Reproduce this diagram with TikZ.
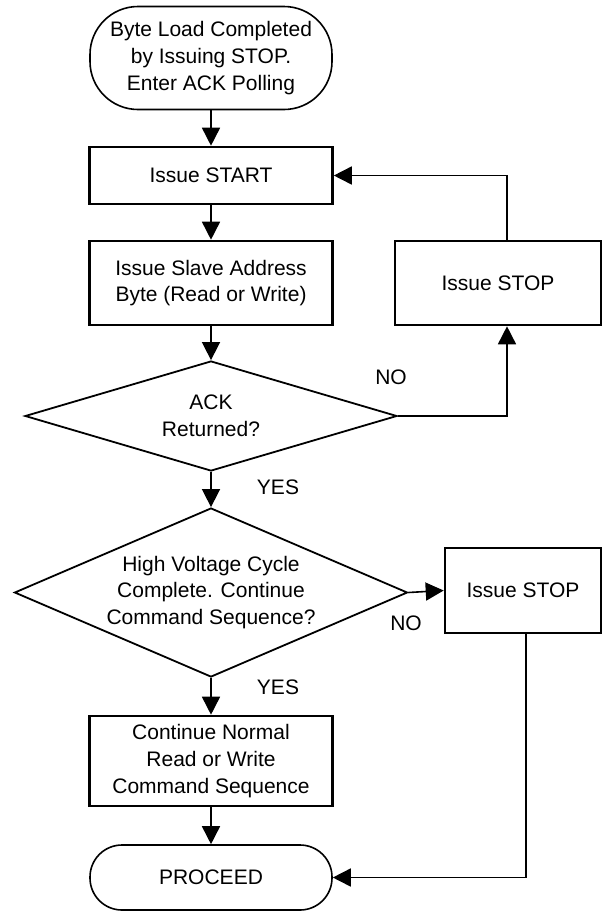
\documentclass[tikz,border=0pt]{standalone}
\usepackage{fontspec}
\setmainfont{Liberation Sans}
\usetikzlibrary{arrows.meta,shapes.geometric}

\begin{document}
\begin{tikzpicture}[x=0.5pt,y=-0.5pt,
  every node/.style={font=\fontsize{10.5}{13.3}\selectfont,align=center},
  box/.style={draw,line width=1.3pt,minimum width=121.5pt,inner sep=0pt},
  term/.style={draw,rectangle,line width=0.8pt,minimum width=121pt,inner sep=0pt},
  decision/.style={draw,diamond,line width=0.9pt,inner sep=0pt},
  flow/.style={line width=0.8pt,-{Triangle[length=9pt,width=9pt]}}]
\path[use as bounding box,fill=white] (0,0) rectangle (604,911);

\node[term,rounded corners=24pt,minimum height=51.5pt] (start) at (211,58) {Byte Load Completed\\by Issuing STOP.\\Enter ACK Polling};
\node[box,minimum height=28.5pt] (issuestart) at (211,175.5) {Issue START};
\node[box,minimum height=42pt] (slave) at (211,283) {Issue Slave Address\\Byte (Read or Write)};
\node[box,minimum width=103pt,minimum height=42pt] (stopa) at (498,283) {Issue STOP};
\node[decision,minimum width=186pt,minimum height=55pt,aspect=3.4] (ack) at (211,416) {ACK\\Returned?};
\node[decision,minimum width=196.5pt,minimum height=84.5pt,aspect=2.3] (hv) at (211,592.5) {High Voltage Cycle\\Complete. Continue\\Command Sequence?};
\node[box,minimum width=78pt,minimum height=42.5pt] (stopb) at (523,590.5) {Issue STOP};
\node[box,minimum height=45pt] (cont) at (211,761) {Continue Normal\\Read or Write\\Command Sequence};
\node[term,rounded corners=16pt,minimum height=32.5pt] (proceed) at (211,877.5) {PROCEED};

% branch labels
\node (noa) at (391,377) {NO};
\node (yesa) at (278,487) {YES};
\node (nob) at (406,623) {NO};
\node (yesb) at (278,687) {YES};

\draw[flow] (start.south) -- (issuestart.north);
\draw[flow] (issuestart.south) -- (slave.north);
\draw[flow] (slave.south) -- (ack.north);
\draw[flow] (ack.east) -| ([xshift=4.5pt]stopa.south);
\draw[flow] ([xshift=4.5pt]stopa.north) |- (issuestart.east);
\draw[flow] (ack.south) -- (hv.north);
\draw[flow] (hv.east) -- (stopb.west);
\draw[flow] (hv.south) -- (cont.north);
\draw[flow] (cont.south) -- (proceed.north);
\draw[flow] ([xshift=1.5pt]stopb.south) |- (proceed.east);
\end{tikzpicture}
\end{document}
